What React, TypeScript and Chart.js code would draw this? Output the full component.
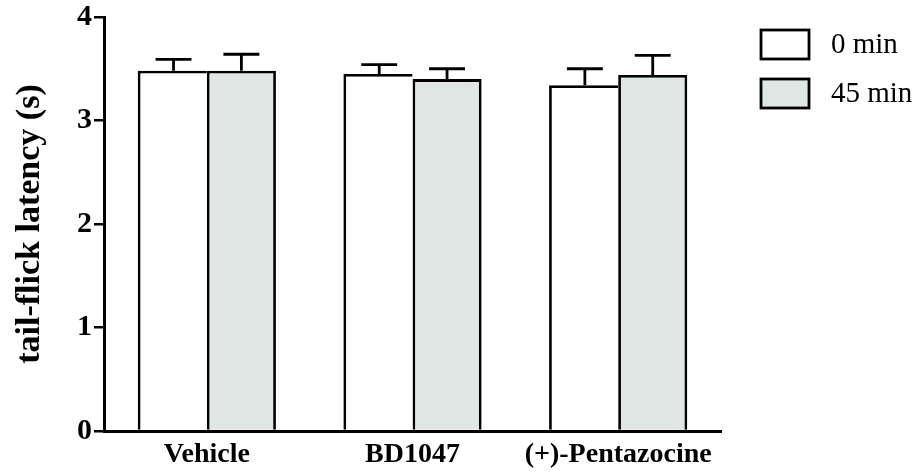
import React, { useEffect, useRef } from "react";
import { Chart, registerables } from "chart.js";

Chart.register(...registerables);

const categories = ["Vehicle", "BD1047", "(+)-Pentazocine"];
const seriesNames = ["0 min", "45 min"];
const values0 = [3.48, 3.45, 3.34];
const values45 = [3.48, 3.4, 3.44];
const errors0 = [0.11, 0.09, 0.16];
const errors45 = [0.16, 0.1, 0.19];
const yTicks = [0, 1, 2, 3, 4];
const fills = ["#ffffff", "#dfe6e3"];
const errorsBySeries = [errors0, errors45];

const SERIF = '"Liberation Serif", "Times New Roman", serif';

const errorBarPlugin = {
  id: "errorBars",
  afterDatasetsDraw(chart: any) {
    const { ctx } = chart;
    const yScale = chart.scales.y;
    chart.data.datasets.forEach((ds: any, di: number) => {
      const meta = chart.getDatasetMeta(di);
      meta.data.forEach((el: any, i: number) => {
        const v = ds.data[i];
        const e = errorsBySeries[di][i];
        const yTop = el.y;
        const yCap = yScale.getPixelForValue(v + e);
        const half = el.width * 0.26;
        const cx = di === 0 ? el.x + 1.25 : el.x;
        ctx.save();
        ctx.strokeStyle = "#000";
        ctx.lineWidth = 2.8;
        ctx.beginPath();
        ctx.moveTo(cx, yTop);
        ctx.lineTo(cx, yCap);
        ctx.moveTo(cx - half, yCap);
        ctx.lineTo(cx + half, yCap);
        ctx.stroke();
        ctx.restore();
      });
    });
  },
};

const legendPlugin = {
  id: "customLegend",
  afterDraw(chart: any) {
    const { ctx, chartArea } = chart;
    const x0 = chartArea.right + 40;
    const boxW = 48;
    const boxH = 29;
    const rowStep = 49;
    const y0 = chartArea.top + 13;
    seriesNames.forEach((name, i) => {
      const y = y0 + i * rowStep;
      ctx.save();
      ctx.fillStyle = fills[i];
      ctx.fillRect(x0, y, boxW, boxH);
      ctx.strokeStyle = "#000";
      ctx.lineWidth = 2.8;
      ctx.strokeRect(x0, y, boxW, boxH);
      ctx.fillStyle = "#000";
      ctx.font = `29px ${SERIF}`;
      ctx.textAlign = "left";
      ctx.textBaseline = "middle";
      ctx.fillText(name, x0 + boxW + 22, y + boxH / 2 + 1);
      ctx.restore();
    });
  },
};

export default function App() {
  const canvasRef = useRef<HTMLCanvasElement | null>(null);

  useEffect(() => {
    const canvas = canvasRef.current;
    if (!canvas) return;
    const chart = new Chart(canvas, {
      type: "bar",
      data: {
        labels: categories,
        datasets: [
          {
            label: seriesNames[0],
            data: values0,
            backgroundColor: fills[0],
            borderColor: "#000",
            borderSkipped: false,
            borderWidth: { top: 2.8, left: 2.8, right: 0, bottom: 0 },
          },
          {
            label: seriesNames[1],
            data: values45,
            backgroundColor: fills[1],
            borderColor: "#000",
            borderSkipped: false,
            borderWidth: { top: 2.8, left: 2.8, right: 2.8, bottom: 0 },
          },
        ],
      },
      options: {
        responsive: false,
        animation: false,
        devicePixelRatio: 1,
        layout: { padding: { top: 17, right: 196, bottom: 0, left: 0 } },
        plugins: {
          legend: { display: false },
          tooltip: { enabled: false },
        },
        datasets: {
          bar: { categoryPercentage: 0.672, barPercentage: 1 },
        },
        scales: {
          x: {
            offset: true,
            grid: { display: true, drawOnChartArea: false, drawTicks: false },
            border: { display: true, color: "#000", width: 3 },
            ticks: {
              color: "#000",
              padding: 7,
              maxRotation: 0,
              font: { family: SERIF, size: 28, weight: "bold" },
            },
            afterFit(scale: any) {
              scale.height = 42;
            },
          },
          y: {
            min: 0,
            max: 4,
            afterBuildTicks(scale: any) {
              scale.ticks = yTicks.map((v) => ({ value: v }));
            },
            grid: {
              display: true,
              drawOnChartArea: false,
              drawTicks: true,
              tickLength: 10,
              color: "#000",
              lineWidth: 2.5,
            },
            border: { display: true, color: "#000", width: 3 },
            ticks: {
              color: "#000",
              padding: 2,
              font: { family: SERIF, size: 30, weight: "bold", lineHeight: 1 },
            },
            title: {
              display: true,
              text: "tail-flick latency (s)",
              color: "#000",
              padding: { top: 10, bottom: 0 },
              font: { family: SERIF, size: 34, weight: "bold" },
            },
            afterFit(scale: any) {
              scale.width = 104;
            },
          },
        },
      },
      plugins: [errorBarPlugin, legendPlugin],
    } as any);
    return () => chart.destroy();
  }, []);

  return (
    <div style={{ position: "fixed", left: 0, top: 0, width: 917, height: 473, background: "#fff" }}>
      <canvas ref={canvasRef} width={917} height={473} style={{ width: 917, height: 473, display: "block" }} />
    </div>
  );
}
